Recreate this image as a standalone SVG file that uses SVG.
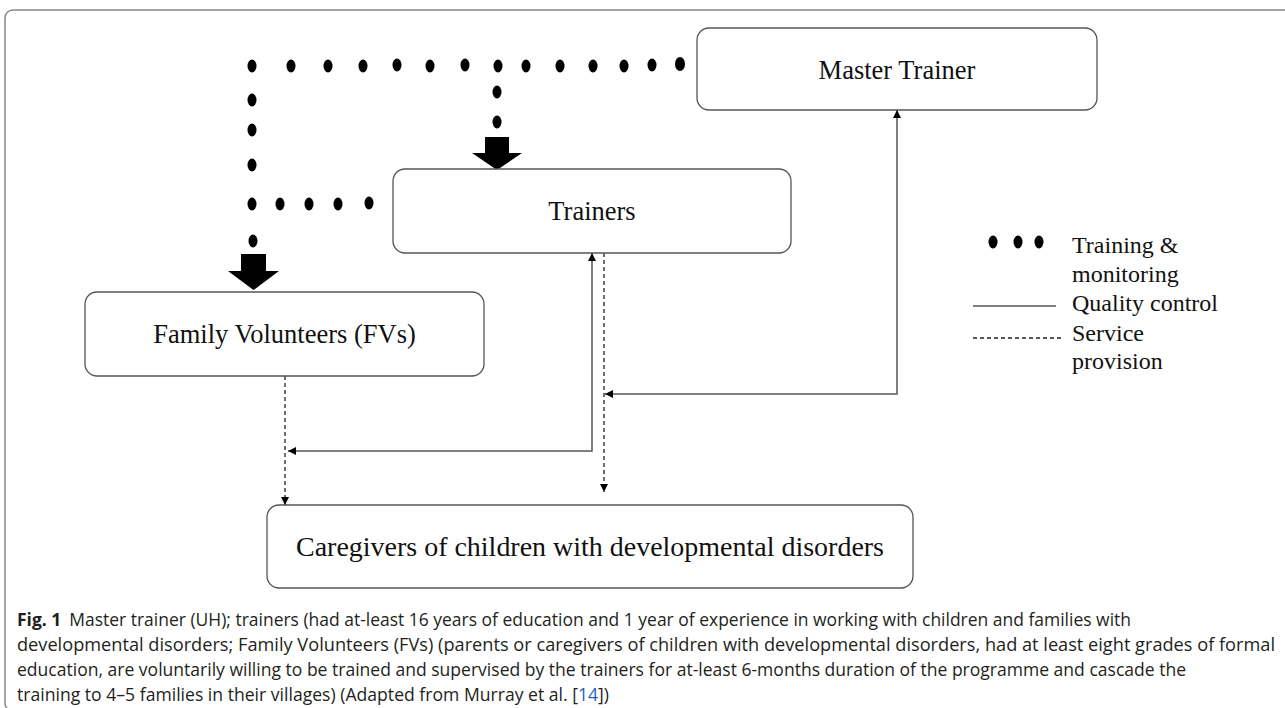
<svg xmlns="http://www.w3.org/2000/svg" width="1285" height="708" viewBox="0 0 1285 708">
<style>
.box{fill:#fff;stroke:#555;stroke-width:1.3}
.lbl{font-family:"Liberation Serif","Times New Roman",serif;font-size:26.5px;fill:#111;text-anchor:middle}
.leg{font-family:"Liberation Serif","Times New Roman",serif;font-size:24px;fill:#111}
.dot{fill:#000}
.solid{fill:none;stroke:#555;stroke-width:1.5}
.dash{fill:none;stroke:#222;stroke-width:1.3;stroke-dasharray:4 3}
.cap{font-family:"Open Sans","Noto Sans",sans-serif;font-size:17.5px;fill:#231f20}
</style>
<defs>
<marker id="ah" markerUnits="userSpaceOnUse" markerWidth="9" markerHeight="8" refX="8" refY="4" orient="auto-start-reverse">
<path d="M0,0 L8,4 L0,8 z" fill="#000"/>
</marker>
</defs>
<rect x="5" y="10" width="1295" height="701" rx="8" fill="none" stroke="#888" stroke-width="1.5"/>

<g id="connectors">
<g id="dots-training">
<ellipse class="dot" cx="252" cy="66" rx="4.5" ry="6.5"/>
<ellipse class="dot" cx="291" cy="66" rx="4.5" ry="6.5"/>
<ellipse class="dot" cx="328" cy="66" rx="4.5" ry="6.5"/>
<ellipse class="dot" cx="363" cy="66" rx="4.5" ry="6.5"/>
<ellipse class="dot" cx="397" cy="65" rx="4.5" ry="6.5"/>
<ellipse class="dot" cx="430" cy="66" rx="4.5" ry="6.5"/>
<ellipse class="dot" cx="465" cy="65" rx="4.5" ry="6.5"/>
<ellipse class="dot" cx="498" cy="66" rx="4.5" ry="6.5"/>
<ellipse class="dot" cx="526" cy="66" rx="4.5" ry="6.5"/>
<ellipse class="dot" cx="560" cy="66" rx="4.5" ry="6.5"/>
<ellipse class="dot" cx="593" cy="66" rx="4.5" ry="6.5"/>
<ellipse class="dot" cx="624" cy="66" rx="4.5" ry="6.5"/>
<ellipse class="dot" cx="652" cy="65" rx="4.5" ry="6.5"/>
<ellipse class="dot" cx="680" cy="64" rx="5" ry="7"/>
<ellipse class="dot" cx="252" cy="100" rx="4.5" ry="6.5"/>
<ellipse class="dot" cx="252" cy="130" rx="4.5" ry="6.5"/>
<ellipse class="dot" cx="252" cy="165" rx="4.5" ry="6.5"/>
<ellipse class="dot" cx="252" cy="204" rx="4.5" ry="6.5"/>
<ellipse class="dot" cx="280" cy="204" rx="4.5" ry="6.5"/>
<ellipse class="dot" cx="309" cy="204" rx="4.5" ry="6.5"/>
<ellipse class="dot" cx="338" cy="204" rx="4.5" ry="6.5"/>
<ellipse class="dot" cx="369" cy="203" rx="4.5" ry="6.5"/>
<ellipse class="dot" cx="253" cy="241" rx="4.5" ry="6.5"/>
<ellipse class="dot" cx="497" cy="92" rx="4.5" ry="6.5"/>
<ellipse class="dot" cx="497" cy="122" rx="4.5" ry="6.5"/>
<polygon points="485,137 509,137 509,153 522,153 497,170 472,153 485,153" fill="#000"/>
<polygon points="241,254 266,254 266,271 279,271 253.5,290 228,271 241,271" fill="#000"/>
</g>
<path class="solid" d="M605,394 H897 V110" marker-start="url(#ah)" marker-end="url(#ah)"/>
<path class="solid" d="M288,451 H592 V253" marker-start="url(#ah)" marker-end="url(#ah)"/>
<path class="dash" d="M285,376 V505" marker-end="url(#ah)"/>
<path class="dash" d="M604,253 V492" marker-end="url(#ah)"/>
</g>

<g id="master-trainer">
<rect class="box" x="697" y="28" width="400" height="82" rx="12"/>
<text class="lbl" x="897" y="79">Master Trainer</text>
</g>
<g id="trainers">
<rect class="box" x="393" y="169" width="398" height="84" rx="12"/>
<text class="lbl" x="592" y="220">Trainers</text>
</g>
<g id="family-volunteers">
<rect class="box" x="85" y="292" width="399" height="84" rx="12"/>
<text class="lbl" x="284.5" y="343">Family Volunteers (FVs)</text>
</g>
<g id="caregivers">
<rect class="box" x="267" y="505" width="646" height="83" rx="12"/>
<text class="lbl" x="590" y="556" textLength="588" lengthAdjust="spacingAndGlyphs">Caregivers of children with developmental disorders</text>
</g>

<g id="legend">
<ellipse class="dot" cx="993" cy="242" rx="4.5" ry="6.5"/>
<ellipse class="dot" cx="1018" cy="242" rx="4.5" ry="6.5"/>
<ellipse class="dot" cx="1039" cy="242" rx="4.5" ry="6.5"/>
<path class="solid" d="M973,306 H1056"/>
<path class="dash" d="M973,338 H1063" stroke="#555"/>
<text class="leg" x="1072" y="253">Training &amp;</text>
<text class="leg" x="1072" y="282">monitoring</text>
<text class="leg" x="1072" y="311">Quality control</text>
<text class="leg" x="1072" y="341">Service</text>
<text class="leg" x="1072" y="369">provision</text>
</g>

<g id="caption">
<text class="cap" x="17" y="626" textLength="1114" lengthAdjust="spacingAndGlyphs"><tspan font-weight="bold">Fig. 1</tspan><tspan dx="8">Master trainer (UH); trainers (had at-least 16 years of education and 1 year of experience in working with children and families with</tspan></text>
<text class="cap" x="17" y="651" textLength="1258" lengthAdjust="spacingAndGlyphs">developmental disorders; Family Volunteers (FVs) (parents or caregivers of children with developmental disorders, had at least eight grades of formal</text>
<text class="cap" x="17" y="676" textLength="1169" lengthAdjust="spacingAndGlyphs">education, are voluntarily willing to be trained and supervised by the trainers for at-least 6-months duration of the programme and cascade the</text>
<text class="cap" x="17" y="701" textLength="592" lengthAdjust="spacingAndGlyphs">training to 4–5 families in their villages) (Adapted from Murray et al. [<tspan fill="#1f5fbf">14</tspan>])</text>
</g>
</svg>
